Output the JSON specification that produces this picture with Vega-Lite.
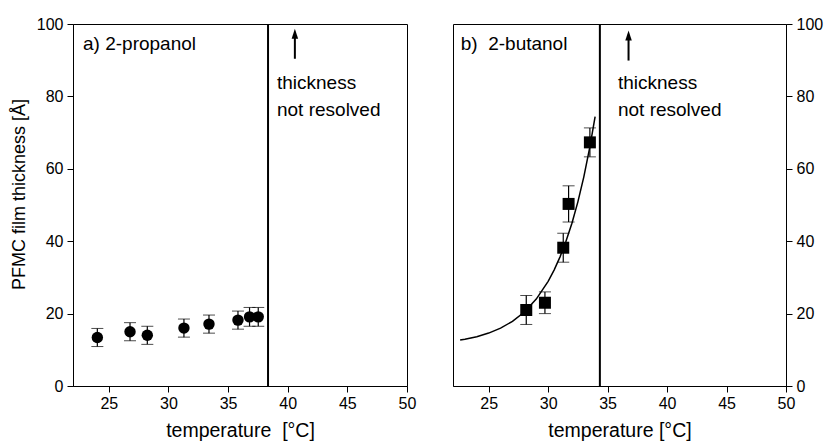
{
  "$schema": "https://vega.github.io/schema/vega-lite/v6.json",
  "padding": {"left": 9, "top": 15, "right": 2, "bottom": 2},
  "background": "white",
  "config": {
    "font": "Liberation Sans",
    "view": {"stroke": "black", "strokeWidth": 1},
    "axis": {"domainColor": "black", "tickColor": "black", "labelColor": "black", "titleColor": "black", "labelFont": "Liberation Sans", "titleFont": "Liberation Sans", "labelFontSize": 16, "titleFontSize": 18, "titleFontWeight": "normal", "grid": false, "labelFlush": false, "labelOverlap": false},
    "axisX": {"titleFontSize": 19.5}
  },
  "datasets": {
    "prop": [
      {"t": 24.04, "v": 13.4, "lo": 10.9, "hi": 15.9},
      {"t": 26.78, "v": 15.0, "lo": 12.5, "hi": 17.5},
      {"t": 28.23, "v": 14.0, "lo": 11.5, "hi": 16.5},
      {"t": 31.3, "v": 16.0, "lo": 13.5, "hi": 18.5},
      {"t": 33.4, "v": 17.1, "lo": 14.6, "hi": 19.6},
      {"t": 35.83, "v": 18.2, "lo": 15.7, "hi": 20.7},
      {"t": 36.8, "v": 19.1, "lo": 16.5, "hi": 21.7},
      {"t": 37.53, "v": 19.1, "lo": 16.5, "hi": 21.7}
    ],
    "but": [
      {"t": 28.16, "v": 21.0, "lo": 17.0, "hi": 25.0},
      {"t": 29.73, "v": 23.0, "lo": 20.0, "hi": 26.0},
      {"t": 31.27, "v": 38.2, "lo": 34.2, "hi": 42.2},
      {"t": 31.72, "v": 50.3, "lo": 45.3, "hi": 55.3},
      {"t": 33.51, "v": 67.3, "lo": 63.3, "hi": 71.3}
    ],
    "fit": [
      {"t": 22.6, "v": 12.68}, {"t": 23, "v": 12.91}, {"t": 24, "v": 13.63}, {"t": 25, "v": 14.62},
      {"t": 26, "v": 15.98}, {"t": 27, "v": 17.86}, {"t": 28, "v": 20.45}, {"t": 29, "v": 24.01},
      {"t": 30, "v": 28.92}, {"t": 30.5, "v": 32.03}, {"t": 31, "v": 35.68}, {"t": 31.5, "v": 39.96},
      {"t": 32, "v": 44.98}, {"t": 32.5, "v": 50.87}, {"t": 33, "v": 57.79}, {"t": 33.5, "v": 65.91},
      {"t": 33.95, "v": 74.42}
    ],
    "labels": [
      {"panel": "a", "t": 22.84, "v": 94.6, "label": "a) 2-propanol"},
      {"panel": "a", "t": 39.1, "v": 83.6, "label": "thickness"},
      {"panel": "a", "t": 39.1, "v": 76.3, "label": "not resolved"},
      {"panel": "b", "t": 22.65, "v": 94.6, "label": "b)\u00a0 2-butanol"},
      {"panel": "b", "t": 35.87, "v": 83.6, "label": "thickness"},
      {"panel": "b", "t": 35.87, "v": 76.3, "label": "not resolved"}
    ],
    "arrows": [
      {"panel": "a", "t": 40.6, "v": 90.4, "v2": 96.5, "tip": 97.3},
      {"panel": "b", "t": 36.76, "v": 89.9, "v2": 96.0, "tip": 96.8}
    ],
    "limits": [
      {"panel": "a", "t": 38.35},
      {"panel": "b", "t": 34.35}
    ]
  },
  "spacing": 35,
  "hconcat": [
    {
      "width": 334,
      "height": 362,
      "layer": [
        {
          "data": {"name": "prop"},
          "mark": {"type": "point", "shape": "circle", "filled": true, "color": "black", "opacity": 1, "size": 130},
          "encoding": {
            "x": {"field": "t", "type": "quantitative", "scale": {"domain": [22, 50], "nice": false, "zero": false}, "title": "temperature \u00a0[°C]",
              "axis": {"values": [25, 30, 35, 40, 45, 50], "tickSize": 6, "labelPadding": 3, "titlePadding": 10}},
            "y": {"field": "v", "type": "quantitative", "scale": {"domain": [0, 100], "nice": false, "zero": false}, "title": "PFMC film thickness [Å]",
              "axis": {"values": [0, 10, 20, 30, 40, 50, 60, 70, 80, 90, 100], "labelExpr": "datum.value % 20 === 0 ? datum.label : ''", "tickSize": {"condition": {"test": "datum.value % 20 === 0", "value": 6}, "value": 3}, "labelPadding": 4, "titlePadding": 8, "titleY": 170}}
          }
        },
        {
          "data": {"name": "prop"},
          "mark": {"type": "errorbar", "color": "black", "ticks": {"size": 12, "color": "black", "strokeWidth": 1.2}, "rule": {"color": "black", "strokeWidth": 1.2}},
          "encoding": {
            "x": {"field": "t", "type": "quantitative", "scale": {"domain": [22, 50], "nice": false, "zero": false}, "title": "temperature \u00a0[°C]"},
            "y": {"field": "lo", "type": "quantitative", "scale": {"domain": [0, 100], "nice": false, "zero": false}, "title": "PFMC film thickness [Å]"},
            "y2": {"field": "hi"}
          }
        },
        {
          "data": {"name": "limits"},
          "transform": [{"filter": "datum.panel === 'a'"}],
          "mark": {"type": "rule", "color": "black", "strokeWidth": 2},
          "encoding": {
            "x": {"field": "t", "type": "quantitative", "scale": {"domain": [22, 50], "nice": false, "zero": false}, "title": "temperature \u00a0[°C]"}
          }
        },
        {
          "data": {"name": "labels"},
          "transform": [{"filter": "datum.panel === 'a'"}],
          "mark": {"type": "text", "align": "left", "baseline": "middle", "fontSize": 19, "font": "Liberation Sans", "color": "black"},
          "encoding": {
            "x": {"field": "t", "type": "quantitative", "scale": {"domain": [22, 50], "nice": false, "zero": false}, "title": "temperature \u00a0[°C]"},
            "y": {"field": "v", "type": "quantitative", "scale": {"domain": [0, 100], "nice": false, "zero": false}, "title": "PFMC film thickness [Å]"},
            "text": {"field": "label"}
          }
        },
        {
          "data": {"name": "arrows"},
          "transform": [{"filter": "datum.panel === 'a'"}],
          "mark": {"type": "rule", "color": "black", "strokeWidth": 2},
          "encoding": {
            "x": {"field": "t", "type": "quantitative", "scale": {"domain": [22, 50], "nice": false, "zero": false}, "title": "temperature \u00a0[°C]"},
            "y": {"field": "v", "type": "quantitative", "scale": {"domain": [0, 100], "nice": false, "zero": false}, "title": "PFMC film thickness [Å]"},
            "y2": {"field": "v2"}
          }
        },
        {
          "data": {"name": "arrows"},
          "transform": [{"filter": "datum.panel === 'a'"}],
          "mark": {"type": "point", "shape": "M0,-1L0.65,1L-0.65,1Z", "filled": true, "color": "black", "opacity": 1, "size": 100},
          "encoding": {
            "x": {"field": "t", "type": "quantitative", "scale": {"domain": [22, 50], "nice": false, "zero": false}, "title": "temperature \u00a0[°C]"},
            "y": {"field": "tip", "type": "quantitative", "scale": {"domain": [0, 100], "nice": false, "zero": false}, "title": "PFMC film thickness [Å]"}
          }
        }
      ]
    },
    {
      "width": 333,
      "height": 362,
      "layer": [
        {
          "data": {"name": "but"},
          "mark": {"type": "point", "shape": "square", "filled": true, "color": "black", "opacity": 1, "size": 144},
          "encoding": {
            "x": {"field": "t", "type": "quantitative", "scale": {"domain": [22, 50], "nice": false, "zero": false}, "title": "temperature [°C]",
              "axis": {"values": [25, 30, 35, 40, 45, 50], "tickSize": 6, "labelPadding": 3, "titlePadding": 10}},
            "y": {"field": "v", "type": "quantitative", "scale": {"domain": [0, 100], "nice": false, "zero": false}, "title": null,
              "axis": {"orient": "right", "values": [0, 10, 20, 30, 40, 50, 60, 70, 80, 90, 100], "labelExpr": "datum.value % 20 === 0 ? datum.label : ''", "tickSize": {"condition": {"test": "datum.value % 20 === 0", "value": 6}, "value": 3}, "labelPadding": 4}}
          }
        },
        {
          "data": {"name": "but"},
          "mark": {"type": "errorbar", "color": "black", "ticks": {"size": 12, "color": "black", "strokeWidth": 1.2}, "rule": {"color": "black", "strokeWidth": 1.2}},
          "encoding": {
            "x": {"field": "t", "type": "quantitative", "scale": {"domain": [22, 50], "nice": false, "zero": false}, "title": "temperature [°C]"},
            "y": {"field": "lo", "type": "quantitative", "scale": {"domain": [0, 100], "nice": false, "zero": false}, "title": null},
            "y2": {"field": "hi"}
          }
        },
        {
          "data": {"name": "fit"},
          "mark": {"type": "line", "color": "black", "strokeWidth": 1.5},
          "encoding": {
            "x": {"field": "t", "type": "quantitative", "scale": {"domain": [22, 50], "nice": false, "zero": false}, "title": "temperature [°C]"},
            "y": {"field": "v", "type": "quantitative", "scale": {"domain": [0, 100], "nice": false, "zero": false}, "title": null}
          }
        },
        {
          "data": {"name": "limits"},
          "transform": [{"filter": "datum.panel === 'b'"}],
          "mark": {"type": "rule", "color": "black", "strokeWidth": 2},
          "encoding": {
            "x": {"field": "t", "type": "quantitative", "scale": {"domain": [22, 50], "nice": false, "zero": false}, "title": "temperature [°C]"}
          }
        },
        {
          "data": {"name": "labels"},
          "transform": [{"filter": "datum.panel === 'b'"}],
          "mark": {"type": "text", "align": "left", "baseline": "middle", "fontSize": 19, "font": "Liberation Sans", "color": "black"},
          "encoding": {
            "x": {"field": "t", "type": "quantitative", "scale": {"domain": [22, 50], "nice": false, "zero": false}, "title": "temperature [°C]"},
            "y": {"field": "v", "type": "quantitative", "scale": {"domain": [0, 100], "nice": false, "zero": false}, "title": null},
            "text": {"field": "label"}
          }
        },
        {
          "data": {"name": "arrows"},
          "transform": [{"filter": "datum.panel === 'b'"}],
          "mark": {"type": "rule", "color": "black", "strokeWidth": 2},
          "encoding": {
            "x": {"field": "t", "type": "quantitative", "scale": {"domain": [22, 50], "nice": false, "zero": false}, "title": "temperature [°C]"},
            "y": {"field": "v", "type": "quantitative", "scale": {"domain": [0, 100], "nice": false, "zero": false}, "title": null},
            "y2": {"field": "v2"}
          }
        },
        {
          "data": {"name": "arrows"},
          "transform": [{"filter": "datum.panel === 'b'"}],
          "mark": {"type": "point", "shape": "M0,-1L0.65,1L-0.65,1Z", "filled": true, "color": "black", "opacity": 1, "size": 100},
          "encoding": {
            "x": {"field": "t", "type": "quantitative", "scale": {"domain": [22, 50], "nice": false, "zero": false}, "title": "temperature [°C]"},
            "y": {"field": "tip", "type": "quantitative", "scale": {"domain": [0, 100], "nice": false, "zero": false}, "title": null}
          }
        }
      ]
    }
  ]
}
